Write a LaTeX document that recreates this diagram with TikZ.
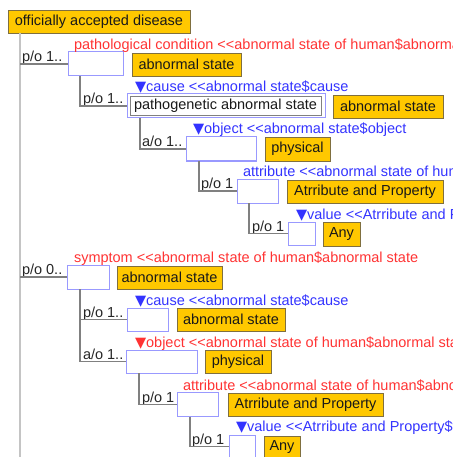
\documentclass[tikz,border=0pt]{standalone}
\usepackage{fontspec}
\setmainfont{Liberation Sans}
\newfontfamily\trifont{DejaVu Sans}
\newcommand{\tridown}{{\trifont ▼}}
\definecolor{goldfill}{HTML}{FFC800}
\definecolor{goldline}{HTML}{7F6F3F}
\definecolor{boxblue}{HTML}{9999FF}
\definecolor{lblred}{HTML}{FF3333}
\definecolor{lblblue}{HTML}{3333FF}
\definecolor{connc}{HTML}{808080}
\definecolor{mainc}{HTML}{C4C4C4}
\begin{document}
\begin{tikzpicture}[x=1pt,y=-1pt,
  every node/.style={font=\fontsize{14.5}{16}\selectfont, inner sep=0pt, outer sep=0pt},
  gold/.style={draw=goldline, fill=goldfill, line width=0.9pt, text=black!90},
  bluebox/.style={draw=boxblue, fill=white, line width=1pt},
  innerbox/.style={draw=gray, line width=0.8pt, text=black!90},
  redlbl/.style={anchor=base west, text=lblred},
  bluelbl/.style={anchor=base west, text=lblblue},
  card/.style={anchor=base west, text=black!85},
  conn/.style={draw=connc, line width=1.1pt},
  mainln/.style={draw=mainc, line width=2.5pt}]
\useasboundingbox (0,0) rectangle (452,457);
\clip (0,0) rectangle (452,457);

% top
\node[gold, minimum width=182, minimum height=23] (top) at (99,21.5) {officially accepted disease};
\coordinate (bottom) at (20,460);

% row 1
\node[bluebox, minimum width=55, minimum height=24] (b1) at (95.5,64) {};
\node[gold, minimum width=109, minimum height=23] (g1) at (186.5,64.5) {abnormal state};
\node[redlbl] (l1) at (74,50) {pathological condition <{}<abnormal state of human\$abnormal state};
\node[card] (p1) at (22,61.5) {p/o 1..};

% row 2
\node[bluebox, minimum width=198, minimum height=24] (b2) at (226,106) {};
\node[innerbox, minimum width=191, minimum height=19] (b2i) at (225.5,106) {pathogenetic abnormal state};
\node[gold, minimum width=110, minimum height=23] (g2) at (388,106.5) {abnormal state};
\node[bluelbl] (l2) at (135,92) {\tridown cause <{}<abnormal state\$cause};
\node[card] (p2) at (83,103.5) {p/o 1..};

% row 3
\node[bluebox, minimum width=70, minimum height=24] (b3) at (221,149) {};
\node[gold, minimum width=65, minimum height=24] (g3) at (297.5,149) {physical};
\node[bluelbl] (l3) at (193,134) {\tridown object <{}<abnormal state\$object};
\node[card] (p3) at (142,146.5) {a/o 1..};

% row 4
\node[bluebox, minimum width=41, minimum height=24] (b4) at (257.5,191) {};
\node[gold, minimum width=156, minimum height=23] (g4) at (365,191.5) {Atrribute and Property};
\node[bluelbl] (l4) at (243,176.5) {attribute <{}<abnormal state of human\$abnormal state};
\node[card] (p4) at (201,188.5) {p/o 1};

% row 5
\node[bluebox, minimum width=27, minimum height=23] (b5) at (301.5,233.5) {};
\node[gold, minimum width=37, minimum height=24] (g5) at (341.5,234) {Any};
\node[bluelbl] (l5) at (296,219) {\tridown value <{}<Atrribute and Property\$value};
\node[card] (p5) at (252,231) {p/o 1};

% row 6
\node[bluebox, minimum width=42, minimum height=24] (b6) at (88,277) {};
\node[gold, minimum width=105, minimum height=23] (g6) at (169.5,277.5) {abnormal state};
\node[redlbl] (l6) at (74,262.5) {symptom <{}<abnormal state of human\$abnormal state};
\node[card] (p6) at (22,274.5) {p/o 0..};

% row 7
\node[bluebox, minimum width=41, minimum height=23] (b7) at (147.5,319.5) {};
\node[gold, minimum width=108, minimum height=23] (g7) at (231,319.5) {abnormal state};
\node[bluelbl] (l7) at (135,305) {\tridown cause <{}<abnormal state\$cause};
\node[card] (p7) at (83,317) {p/o 1..};

% row 8
\node[bluebox, minimum width=71, minimum height=23] (b8) at (161.5,361.5) {};
\node[gold, minimum width=66, minimum height=23] (g8) at (238,361.5) {physical};
\node[redlbl] (l8) at (135,347) {\tridown object <{}<abnormal state of human\$abnormal state};
\node[card] (p8) at (83,359.5) {a/o 1..};

% row 9
\node[bluebox, minimum width=41, minimum height=24] (b9) at (197.5,404.5) {};
\node[gold, minimum width=155, minimum height=23] (g9) at (305.5,404.5) {Atrribute and Property};
\node[redlbl] (l9) at (183,390) {attribute <{}<abnormal state of human\$abnormal state};
\node[card] (p9) at (142,402) {p/o 1};

% row 10
\node[bluebox, minimum width=26, minimum height=23] (b10) at (242,446.5) {};
\node[gold, minimum width=36, minimum height=23] (g10) at (282,447.5) {Any};
\node[bluelbl] (l10) at (236,431.5) {\tridown value <{}<Atrribute and Property\$value};
\node[card] (p10) at (192,444) {p/o 1};

% connectors
\draw[mainln] ([xshift=12pt]top.south west) -- (bottom);
\draw[conn] (b1.west -| bottom) -- (b1.west);
\draw[conn] (b6.west -| bottom) -- (b6.west);
\draw[conn] ([xshift=12pt]b1.south west) |- (b2.west);
\draw[conn] ([xshift=13pt]b2.south west) |- (b3.west);
\draw[conn] ([xshift=13pt]b3.south west) |- (b4.west);
\draw[conn] ([xshift=12pt]b4.south west) |- (b5.west);
\draw[conn] ([xshift=13pt]b6.south west) |- (b8.west);
\draw[conn] ([xshift=13pt]b6.south west |- b7.west) -- (b7.west);
\draw[conn] ([xshift=13pt]b8.south west) |- (b9.west);
\draw[conn] ([xshift=13pt]b9.south west) |- (b10.west);
\end{tikzpicture}
\end{document}
